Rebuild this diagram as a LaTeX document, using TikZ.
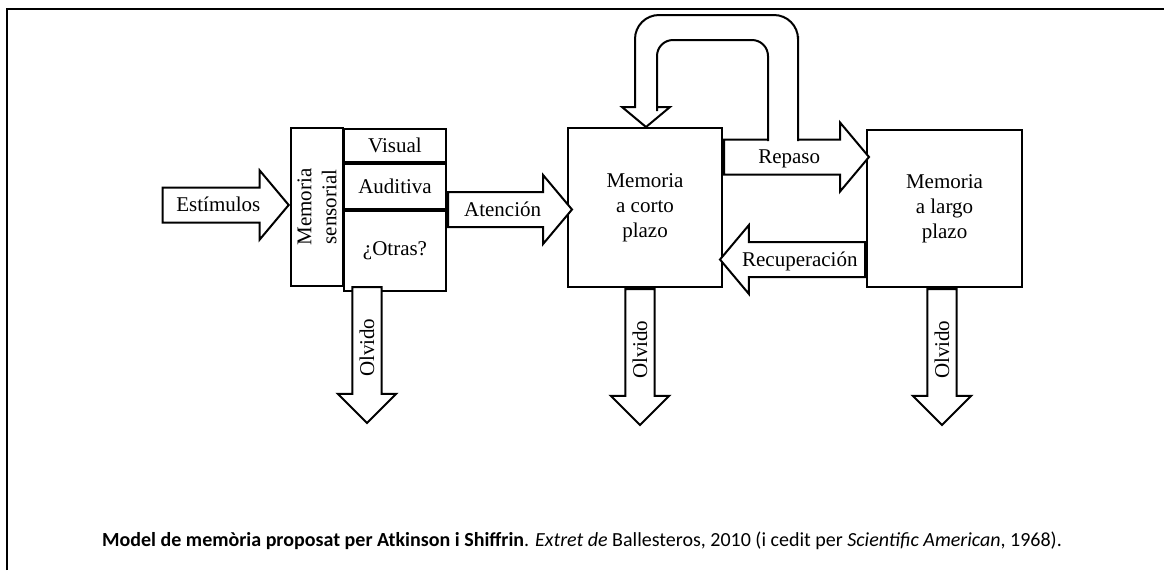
\documentclass[tikz,border=0pt]{standalone}
\usepackage{fontspec}
\setmainfont{Liberation Serif}
\newfontfamily\capfont{Carlito}
\usetikzlibrary{shapes.arrows,positioning}

\tikzset{
  box/.style={draw, line width=1pt, inner sep=0pt, align=center,
    font=\fontsize{10.5}{12.5}\selectfont},
  fat/.style={draw, fill=white, line width=1pt, single arrow,
    single arrow head extend=8.5pt, single arrow tip angle=100,
    inner xsep=0pt, inner ysep=3pt, text height=8.5pt, text depth=2pt,
    font=\fontsize{10.5}{12.5}\selectfont},
  drop/.style={fat, rotate=90, shape border rotate=180,
    single arrow head extend=7.25pt, single arrow tip angle=90,
    text height=7.2pt, text depth=0pt, inner ysep=3.2pt, minimum height=68pt},
}

\begin{document}
\begin{tikzpicture}[x=0.5pt, y=-0.5pt]
\useasboundingbox (0,0) rectangle (1164,570);

% frame
\draw[line width=1.3pt] (7,570) -- (7,9) -- (1164,9);

% memories
\node[box, rotate=90, minimum width=79pt, minimum height=26pt] (strip) at (317,207) {Memoria\\sensorial};
\node[box, anchor=north west, minimum width=51pt, minimum height=16.5pt] (visual) at (343,128) {Visual};
\node[box, below=0pt of visual, minimum width=51pt, minimum height=22.5pt] (auditiva) {Auditiva};
\node[box, below=0pt of auditiva, minimum width=51pt, minimum height=40pt] (otras) {¿Otras?};
\coordinate (sensbot) at (367,286);

\node[box, minimum width=77pt, minimum height=79.5pt] (stm) at (645,207.5) {Memoria\\a corto\\plazo};
\node[box, minimum width=77.5pt, minimum height=78.5pt] (ltm) at (944.5,208.5) {Memoria\\a largo\\plazo};

% arrows
\node[fat, anchor=tip, minimum height=63pt] (estimulos) at ([yshift=1pt]strip.north) {Estímulos};
\node[fat, anchor=tail, minimum height=62pt] (atencion) at ([yshift=-1pt]auditiva.east |- stm.west) {Atención};
\node[fat, anchor=tail, minimum height=72.5pt] (repaso) at ([yshift=25.25pt]stm.east) {Repaso};
\node[fat, anchor=tail, shape border rotate=180, minimum height=72.5pt] (recup) at ([yshift=-25.5pt]ltm.west) {Recuperación};

\node[drop, anchor=tail] (olv1) at (sensbot) {Olvido};
\node[drop, anchor=tail] (olv2) at ([xshift=-2.5pt]stm.south) {Olvido};
\node[drop, anchor=tail] (olv3) at ([xshift=-1.25pt]ltm.south) {Olvido};

% loop
\fill[white] (769,138) rectangle (797,144);
\draw[line width=1pt] (768,141) [rounded corners=8pt] -- (768,40) -- (657,40) -- (657,95)
  [sharp corners] -- (657,107) -- (670,107) -- (646,127) -- (622,107) -- (635,107) -- (635,95)
  [rounded corners=12pt] -- (635,15) -- (798,15) -- (798,60) [sharp corners] -- (798,141);

% caption
\node[font=\capfont\fontsize{10}{12}\selectfont] (caption) at (582,541)
  {\textbf{Model de memòria proposat per Atkinson i Shiffrin}. \textit{Extret de} Ballesteros, 2010 (i cedit per \textit{Scientific American}, 1968).};

\end{tikzpicture}
\end{document}
